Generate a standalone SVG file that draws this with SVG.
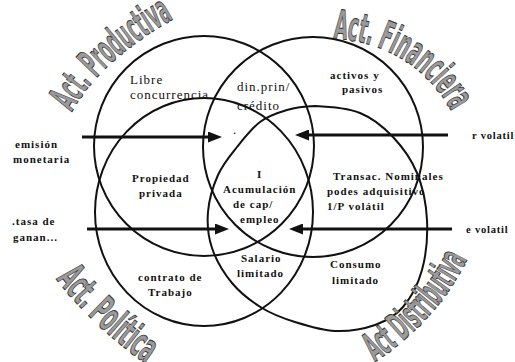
<svg xmlns="http://www.w3.org/2000/svg" xmlns:xlink="http://www.w3.org/1999/xlink" width="515" height="362" viewBox="0 0 515 362">
<defs>
<style>
.c{fill:none;stroke:#111;stroke-width:2}
.a{stroke:#111;stroke-width:3;fill:none}
.r{font-family:"Liberation Serif","Times New Roman",serif;font-size:13px;letter-spacing:1px;fill:#111}
.b{font-family:"Liberation Serif","Times New Roman",serif;font-size:11px;font-weight:bold;letter-spacing:1px;fill:#111}
.s{font-family:"Liberation Serif","Times New Roman",serif;font-size:10.5px;font-weight:bold;letter-spacing:0.8px;fill:#111}
.w{font-family:"Liberation Sans Narrow","DejaVu Sans Condensed","Liberation Sans",sans-serif;font-size:40px;font-weight:bold;fill:#9a9a9a;stroke:#333;stroke-width:1}
</style>
<marker id="ah" viewBox="0 0 14 11" refX="6" refY="5.5" markerWidth="14" markerHeight="11" markerUnits="userSpaceOnUse" orient="auto">
<path d="M0,0 L14,5.5 L0,11 Z" fill="#111"/>
</marker>
<path id="pP" d="M72,112 Q100,60 175,18"/>
<path id="pF" d="M333,38 Q415,45 452,112"/>
<path id="pPo" d="M56,279 Q98,332 150,366"/>
<path id="pD" d="M375,362 Q438,320 468,258"/>
</defs>
<rect width="515" height="362" fill="#fff"/>

<g id="productiva">
<circle class="c" cx="204" cy="146" r="110"/>
<text class="w"><textPath xlink:href="#pP" href="#pP" textLength="140" lengthAdjust="spacingAndGlyphs">Act. Productiva</textPath></text>
</g>
<g id="financiera">
<circle class="c" cx="313" cy="147" r="110"/>
<text class="w"><textPath xlink:href="#pF" href="#pF" textLength="146" lengthAdjust="spacingAndGlyphs">Act. Financiera</textPath></text>
</g>
<g id="politica">
<ellipse class="c" cx="204" cy="212" rx="109" ry="114"/>
<text class="w"><textPath xlink:href="#pPo" href="#pPo" textLength="124" lengthAdjust="spacingAndGlyphs">Act. Política</textPath></text>
</g>
<g id="distributiva">
<path class="c" d="M315,106 C327.2,106.5 347,107.8 360,113 C373,118.2 383.5,127 393,137 C402.5,147 411.3,159.2 417,173 C422.7,186.8 426.2,203.8 427,220 C427.8,236.2 426,255.5 422,270 C418,284.5 410.8,297.8 403,307 C395.2,316.2 386.3,321 375,325 C363.7,329 348.3,331.5 335,331 C321.7,330.5 307.2,325.8 295,322 C282.8,318.2 272.5,314.5 262,308 C251.5,301.5 240.3,293 232,283 C223.7,273 216,259.8 212,248 C208,236.2 207,224.2 208,212 C209,199.8 213.2,185.8 218,175 C222.8,164.2 230,155.8 237,147 C244,138.2 251.7,128.2 260,122 C268.3,115.8 277.8,112.7 287,110 C296.2,107.3 302.8,106.5 315,106 Z"/>
<text class="w"><textPath xlink:href="#pD" href="#pD" textLength="140" lengthAdjust="spacingAndGlyphs">Act Distributiva</textPath></text>
</g>

<g id="libre-concurrencia"><text class="r" x="130" y="84">Libre</text><text class="r" x="130" y="99">concurrencia</text></g>
<g id="din-prin"><text class="r" x="237" y="91">din.prin/</text><text class="r" x="237" y="110">crédito</text></g>
<g id="activos"><text class="b" x="330" y="79">activos y</text><text class="b" x="342" y="93">pasivos</text></g>
<g id="propiedad"><text class="b" x="132" y="182">Propiedad</text><text class="b" x="139" y="197">privada</text></g>
<g id="acumulacion"><text class="b" x="257" y="178">I</text><text class="b" x="223" y="193">Acumulación</text><text class="b" x="233" y="208">de cap/</text><text class="b" x="240" y="223">empleo</text></g>
<g id="transac"><text class="b" x="333" y="180">Transac. Nominales</text><text class="b" x="327" y="195">podes adquisitivo</text><text class="b" x="327" y="210">1/P volátil</text></g>
<g id="salario"><text class="b" x="241" y="262">Salario</text><text class="b" x="237" y="277">limitado</text></g>
<g id="contrato"><text class="b" x="138" y="281">contrato de</text><text class="b" x="148" y="296">Trabajo</text></g>
<g id="consumo"><text class="b" x="330" y="268">Consumo</text><text class="b" x="332" y="284">limitado</text></g>

<g id="emision"><text class="b" x="15" y="148">emisión</text><text class="b" x="13" y="163">monetaria</text></g>
<g id="tasa"><text class="b" x="12" y="225">.tasa de</text><text class="b" x="13" y="241">ganan...</text></g>
<g id="r-volatil"><text class="s" x="472" y="139">r volatil</text></g>
<g id="e-volatil"><text class="s" x="466" y="233">e  volatil</text></g>
<g id="dot"><text class="r" x="233" y="134">.</text></g>

<g id="connectors">
<line class="a" x1="82" y1="137" x2="214" y2="137" marker-end="url(#ah)"/>
<line class="a" x1="448" y1="135" x2="303" y2="135" marker-end="url(#ah)"/>
<line class="a" x1="87" y1="229" x2="221" y2="229" marker-end="url(#ah)"/>
<line class="a" x1="452" y1="229" x2="297" y2="229" marker-end="url(#ah)"/>
</g>
</svg>
